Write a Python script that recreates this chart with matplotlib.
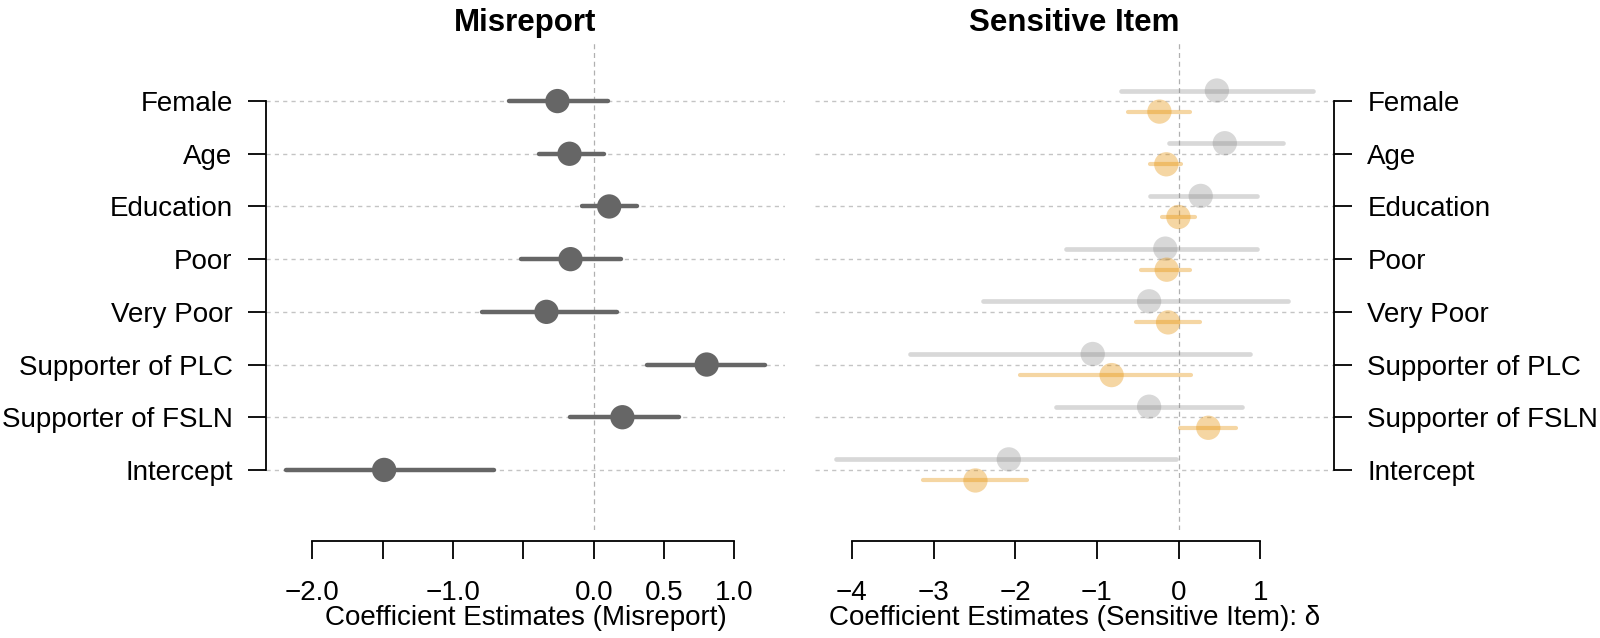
import matplotlib
matplotlib.use("Agg")
import matplotlib.pyplot as plt

plt.rcParams['font.family'] = ['Liberation Sans', 'DejaVu Sans']

# ---------------- data ----------------
labels = ["Female", "Age", "Education", "Poor", "Very Poor",
          "Supporter of PLC", "Supporter of FSLN", "Intercept"]

# Misreport model (left panel)
mis_est = [-0.258, -0.172, 0.110, -0.165, -0.336, 0.803, 0.204, -1.490]
mis_lo = [-0.599, -0.390, -0.083, -0.518, -0.791, 0.376, -0.169, -2.188]
mis_hi = [0.101, 0.071, 0.309, 0.194, 0.164, 1.220, 0.606, -0.710]

# Sensitive item model (right panel), grey series
sens_a_est = [0.467, 0.564, 0.269, -0.164, -0.362, -1.052, -0.362, -2.079]
sens_a_lo = [-0.711, -0.122, -0.354, -1.385, -2.395, -3.291, -1.498, -4.192]
sens_a_hi = [1.641, 1.279, 0.964, 0.964, 1.343, 0.871, 0.774, -0.030]

# Sensitive item model (right panel), orange series
sens_b_est = [-0.236, -0.152, -0.004, -0.147, -0.130, -0.821, 0.362, -2.487]
sens_b_lo = [-0.619, -0.349, -0.210, -0.463, -0.518, -1.936, 0.021, -3.123]
sens_b_hi = [0.139, 0.025, 0.202, 0.139, 0.265, 0.147, 0.699, -1.860]

left_ticks = [-2.0, -1.5, -1.0, -0.5, 0.0, 0.5, 1.0]
left_ticklabels = ["\u22122.0", "", "\u22121.0", "", "0.0", "0.5", "1.0"]
right_ticks = [-4, -3, -2, -1, 0, 1]
right_ticklabels = ["\u22124", "\u22123", "\u22122", "\u22121", "0", "1"]

# ---------------- layout ----------------
W, H = 1600, 638
fig = plt.figure(figsize=(W / 100, H / 100), dpi=100)


def box(l, t, r, b):
    return [l / W, 1 - b / H, (r - l) / W, (b - t) / H]


axL = fig.add_axes(box(266, 41, 785, 530))
axR = fig.add_axes(box(815, 41, 1334, 530))

n = len(labels)
ypos = list(range(n, 0, -1))  # Female on top
off = 0.2

GRID = '#c4c4c4'
FS = 20
TITLE_FS = 22.5
AX_LW = 1.3
TICK_LEN = 13

for ax in (axL, axR):
    ax.set_ylim(-0.14, n + 1.14)
    for y in ypos:
        ax.axhline(y, color=GRID, lw=1.0, ls=(0, (3, 3)), zorder=1)
    ax.axvline(0, color='#b0b0b0', lw=0.9, ls=(0, (4, 3)), zorder=1)
    ax.spines['top'].set_visible(False)
    ax.spines['bottom'].set_position(('outward', 7.9))
    ax.spines['bottom'].set_linewidth(AX_LW)
    ax.tick_params(axis='both', direction='out', length=TICK_LEN,
                   width=AX_LW, labelsize=FS, color='black')
    ax.tick_params(axis='x', pad=15)
    ax.tick_params(axis='y', pad=11)
    ax.set_yticks(ypos)
    ax.set_yticklabels(labels)

# ---- left panel ----
axL.set_xlim(-2.33, 1.36)
axL.spines['right'].set_visible(False)
axL.spines['left'].set_bounds(1, n)
axL.spines['left'].set_linewidth(AX_LW)
axL.spines['bottom'].set_bounds(left_ticks[0], left_ticks[-1])
axL.set_xticks(left_ticks)
axL.set_xticklabels(left_ticklabels)
axL.hlines(ypos, mis_lo, mis_hi, colors='#666666', lw=3.2,
           capstyle='round', zorder=3)
axL.scatter(mis_est, ypos, s=17.5 ** 2, color='#666666',
            edgecolors='none', zorder=4)
axL.set_title("Misreport", fontsize=TITLE_FS, fontweight='bold', pad=7)
axL.set_xlabel("Coefficient Estimates (Misreport)", fontsize=FS)
axL.xaxis.set_label_coords(0.5, (530 - 618) / 489)
axL.xaxis.label.set_va('center')

# ---- right panel ----
axR.set_xlim(-4.45, 1.90)
axR.spines['left'].set_visible(False)
axR.spines['right'].set_bounds(1, n)
axR.spines['right'].set_linewidth(AX_LW)
axR.yaxis.tick_right()
axR.yaxis.set_label_position('right')
axR.spines['bottom'].set_bounds(right_ticks[0], right_ticks[-1])
axR.set_xticks(right_ticks)
axR.set_xticklabels(right_ticklabels)

GREY = '#808080'
ORANGE = '#E58E00'
ya = [y + off for y in ypos]
yb = [y - off for y in ypos]
axR.hlines(ya, sens_a_lo, sens_a_hi, colors=GREY, alpha=0.3, lw=3.4,
           capstyle='round', zorder=3)
axR.scatter(sens_a_est, ya, s=17.5 ** 2, color=GREY, alpha=0.3,
            edgecolors='none', zorder=4)
axR.hlines(yb, sens_b_lo, sens_b_hi, colors=ORANGE, alpha=0.36, lw=3.0,
           capstyle='round', zorder=3)
axR.scatter(sens_b_est, yb, s=17.5 ** 2, color=ORANGE, alpha=0.36,
            edgecolors='none', zorder=4)
axR.set_title("Sensitive Item", fontsize=TITLE_FS, fontweight='bold', pad=7)
axR.set_xlabel("Coefficient Estimates (Sensitive Item): \u03b4", fontsize=FS)
axR.xaxis.set_label_coords(0.5, (530 - 618) / 489)
axR.xaxis.label.set_va('center')

fig.savefig("out.png", dpi=100)
